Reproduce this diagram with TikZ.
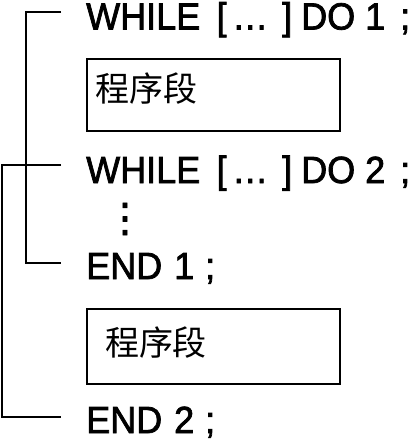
\documentclass[tikz,border=0pt]{standalone}
\usepackage{graphicx}
\usepackage{fontspec}
\setmainfont[FakeBold=2]{Liberation Sans}
\newfontfamily\cjkfont{Noto Sans CJK SC}
\newfontfamily\symfont[FakeBold=1.5]{DejaVu Sans}
\newcommand{\codeline}[1]{\scalebox{1}[1.05]{#1}}
\usetikzlibrary{calc}
\begin{document}
\begin{tikzpicture}[x=1pt,y=-1pt,
  code/.style={anchor=base west, inner sep=0pt, font=\fontsize{36}{40}\selectfont},
  cjk/.style={anchor=base, inner sep=0pt, font=\cjkfont\fontsize{34}{40}\selectfont},
  box/.style={draw, line width=2pt, anchor=north west, inner sep=0pt, minimum width=253pt},
  bracket/.style={line width=1.6pt}]
\useasboundingbox (0,0) rectangle (410,440);
% texts
\node[code] (w1) at (86,29.5) {\codeline{WHILE\hspace{16.4pt}[\hspace{5.6pt}…\hspace{14pt}]\hspace{9pt}DO\hspace{10pt}1\hspace{15pt};}};
\node[box, minimum height=72pt] (b1) at (86,58) {};
\node[cjk] (t1) at (146.5,101.5) {程序段};
\node[code] (w2) at (86,183) {\codeline{WHILE\hspace{16.4pt}[\hspace{5.6pt}…\hspace{14pt}]\hspace{9pt}DO\hspace{10pt}2\hspace{15pt};}};
\node[inner sep=0pt, font=\symfont\fontsize{40}{40}\selectfont] (vd) at (125,219) {⋮};
\node[code] (e1) at (86,279) {\codeline{END\hspace{12pt}1\hspace{11pt};}};
\node[box, minimum height=75pt] (b2) at (86,308) {};
\node[cjk] (t2) at (156,355.5) {程序段};
\node[code] (e2) at (86,433) {\codeline{END\hspace{12pt}2\hspace{11pt};}};
% loop brackets
\draw[bracket] ($(w1.base west)+(-25,-17.5)$) -| ($(e1.base west)+(-60,-16)$) -- ($(e1.base west)+(-25,-16)$);
\draw[bracket] ($(w2.base west)+(-25,-18)$) -| ($(e2.base west)+(-84,-16)$) -- ($(e2.base west)+(-25,-16)$);
\end{tikzpicture}
\end{document}
